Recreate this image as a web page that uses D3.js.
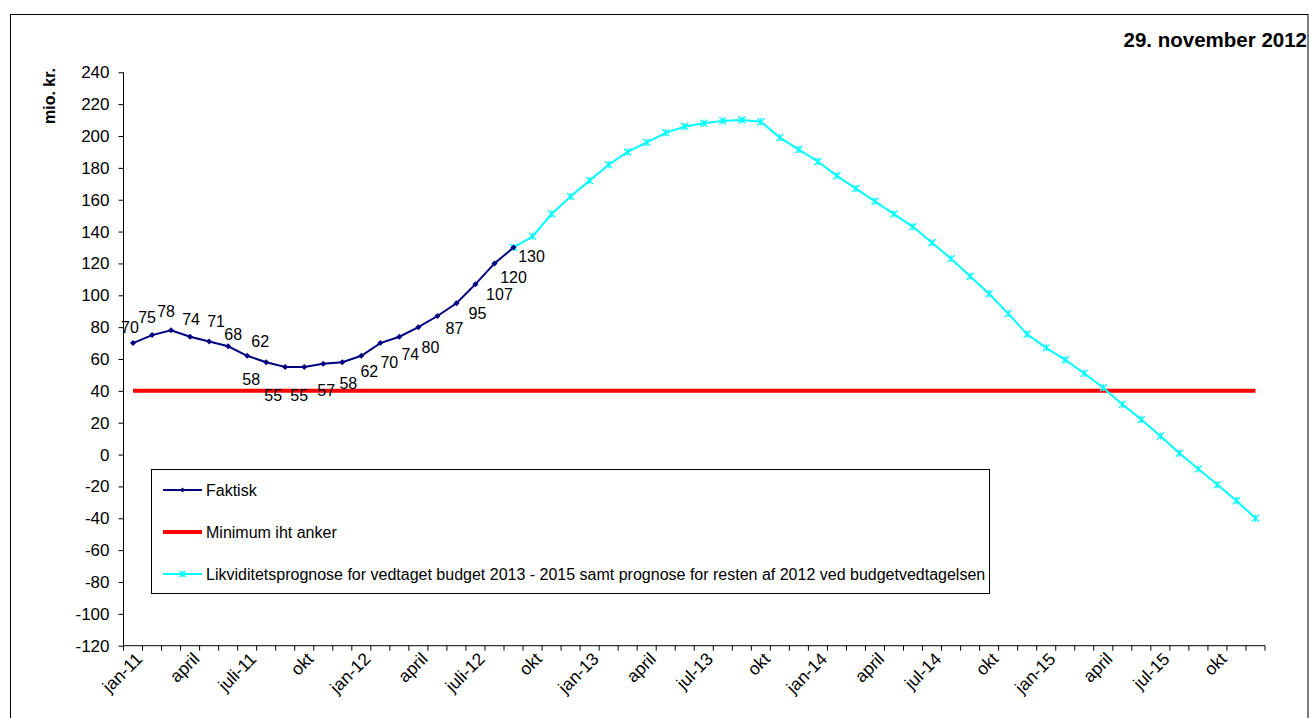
<!DOCTYPE html>
<html>
<head>
<meta charset="utf-8">
<script src="https://cdn.jsdelivr.net/npm/d3@7"></script>
<style>
  html, body { margin: 0; padding: 0; background: #fff; }
  svg { display: block; font-family: "Liberation Sans", Arial, sans-serif; }
</style>
</head>
<body>
<svg id="chart" width="1309" height="718"></svg>
<script>
// ---------------- DATA ----------------
const categories = [
  "jan-11","feb-11","mar-11","apr-11","maj-11","jun-11","jul-11","aug-11","sep-11","okt-11","nov-11","dec-11",
  "jan-12","feb-12","mar-12","apr-12","maj-12","jun-12","jul-12","aug-12","sep-12","okt-12","nov-12","dec-12",
  "jan-13","feb-13","mar-13","apr-13","maj-13","jun-13","jul-13","aug-13","sep-13","okt-13","nov-13","dec-13",
  "jan-14","feb-14","mar-14","apr-14","maj-14","jun-14","jul-14","aug-14","sep-14","okt-14","nov-14","dec-14",
  "jan-15","feb-15","mar-15","apr-15","maj-15","jun-15","jul-15","aug-15","sep-15","okt-15","nov-15","dec-15"
];
// Displayed tick labels (every third month, starting jan-11)
const tickLabels = ["jan-11","april","juli-11","okt","jan-12","april","juli-12","okt",
  "jan-13","april","jul-13","okt","jan-14","april","jul-14","okt","jan-15","april","jul-15","okt"];
const yTicks = [240,220,200,180,160,140,120,100,80,60,40,20,0,-20,-40,-60,-80,-100,-120];

// Faktisk: jan-11 .. sep-12
const faktiskStart = "jan-11";
const faktiskValues = [70,75,78,74,71,68,62,58,55,55,57,58,62,70,74,80,87,95,107,120,130];
// Minimum iht anker (constant level across the whole period)
const minimumValue = 40;
// Likviditetsprognose: sep-12 .. dec-15
const prognoseStart = "sep-12";
const prognoseValues = [130,137,151,162,172,182,190,196,202,206,208,209.5,210,209,
  199,191.5,184,175,167,159,151,143,133,123,112,101,88.5,75.5,67,59.5,51,42,31.5,22,11.7,0.8,-9,-19,-29,-40];

const seriesNames = ["Faktisk","Minimum iht anker",
  "Likviditetsprognose for vedtaget budget 2013 - 2015 samt prognose for resten af 2012 ved budgetvedtagelsen"];
const titleText = "29. november 2012";
const yAxisTitle = "mio. kr.";

// label placement offsets (layout only) for Faktisk data labels [dx, dy]
const faktiskLabelOffsets = [[-3,-16],[-5,-18],[-5,-19],[1,-17],[7,-20],[5,-12],[13,-14],
  [-15,17],[-12,28],[-5,28],[3,27],[6,21],[8,16],[9,19],[11,18],[12,20],[17,12],[21,10],[24,10],[19,14],[18,9]];

// ---------------- LAYOUT ----------------
const svg = d3.select("#chart");
const plot = {left: 123.5, right: 1265, top: 72.3, bottom: 645.7};

const x = d3.scaleBand().domain(categories).range([plot.left, plot.right]).padding(0);
const y = d3.scaleLinear().domain([-120, 240]).range([plot.bottom, plot.top]);
const cx = c => x(c) + x.bandwidth() / 2;
const fmt = v => String(Math.round(v));

// outer frame
svg.append("rect").attr("x", 10.5).attr("y", 14.5).attr("width", 1297.5).attr("height", 720)
  .attr("fill", "none").attr("stroke", "#000").attr("stroke-width", 1);

// title
svg.append("text").attr("x", 1307).attr("y", 47).attr("text-anchor", "end")
  .attr("font-size", 20.5).attr("font-weight", "bold").text(titleText);

// y axis title
svg.append("text").attr("transform", "translate(55,96) rotate(-90)")
  .attr("text-anchor", "middle").attr("font-size", 16).attr("font-weight", "bold").text(yAxisTitle);

// y axis
const yAxis = d3.axisLeft(y).tickValues(yTicks).tickSize(5).tickPadding(9).tickFormat(fmt);
const gy = svg.append("g").attr("transform", `translate(${plot.left},0)`).call(yAxis);
gy.select(".domain").attr("stroke", "#000").attr("d", `M-0,${plot.top}V${plot.bottom}`);
gy.selectAll(".tick line").attr("stroke", "#000");
gy.selectAll(".tick text").attr("font-size", 17).attr("fill", "#000").attr("font-family", "Liberation Sans, Arial, sans-serif");

// x axis (ticks between categories)
const gx = svg.append("g").attr("transform", `translate(0,${plot.bottom})`);
gx.append("line").attr("x1", plot.left).attr("x2", plot.right).attr("stroke", "#000");
const boundaries = categories.map(c => x(c)).concat([plot.right]);
gx.selectAll("line.tk").data(boundaries).join("line").attr("class", "tk")
  .attr("x1", d => d).attr("x2", d => d).attr("y1", 0).attr("y2", 5).attr("stroke", "#000");
const labelCats = categories.filter((c, i) => i % 3 === 0);
gx.selectAll("text.xl").data(labelCats).join("text").attr("class", "xl")
  .attr("transform", c => `translate(${cx(c) + 6},${10}) rotate(-45)`)
  .attr("text-anchor", "end").attr("font-size", 17.5).attr("dy", "0.35em")
  .text((c, i) => tickLabels[i]);

// ---------------- SERIES ----------------
const startF = categories.indexOf(faktiskStart);
const faktisk = faktiskValues.map((v, i) => ({c: categories[startF + i], v}));
const startP = categories.indexOf(prognoseStart);
const prognose = prognoseValues.map((v, i) => ({c: categories[startP + i], v}));

const line = d3.line().x(d => cx(d.c)).y(d => y(d.v));

// minimum line
svg.append("line")
  .attr("x1", cx(categories[0])).attr("x2", cx(categories[categories.length - 1]))
  .attr("y1", y(minimumValue)).attr("y2", y(minimumValue))
  .attr("stroke", "#ff0000").attr("stroke-width", 4);

// prognose
svg.append("path").datum(prognose).attr("d", line).attr("fill", "none")
  .attr("stroke", "#00ffff").attr("stroke-width", 2);
const starMarker = (g, s) => {
  g.append("path").attr("d", `M${-s},${-s}L${s},${s}M${-s},${s}L${s},${-s}M0,${-s}L0,${s}`)
    .attr("stroke", "#00ffff").attr("stroke-width", 1.3).attr("fill", "none");
};
svg.selectAll("g.pm").data(prognose).join("g").attr("class", "pm")
  .attr("transform", d => `translate(${cx(d.c)},${y(d.v)})`)
  .each(function() { starMarker(d3.select(this), 3.5); });

// faktisk
svg.append("path").datum(faktisk).attr("d", line).attr("fill", "none")
  .attr("stroke", "#000080").attr("stroke-width", 2);
svg.selectAll("path.fm").data(faktisk).join("path").attr("class", "fm")
  .attr("transform", d => `translate(${cx(d.c)},${y(d.v)})`)
  .attr("d", "M0,-3L3,0L0,3L-3,0Z").attr("fill", "#000080");

// faktisk data labels
svg.selectAll("text.dl").data(faktisk).join("text").attr("class", "dl")
  .attr("x", (d, i) => cx(d.c) + faktiskLabelOffsets[i][0])
  .attr("y", (d, i) => y(d.v) + faktiskLabelOffsets[i][1])
  .attr("dy", "0.35em").attr("text-anchor", "middle").attr("font-size", 16)
  .text(d => fmt(d.v));

// ---------------- LEGEND ----------------
const lg = svg.append("g");
lg.append("rect").attr("x", 151.5).attr("y", 469.5).attr("width", 838).attr("height", 124)
  .attr("fill", "#fff").attr("stroke", "#000").attr("stroke-width", 1);
const rowsY = [490, 532, 574];
// row 1
lg.append("line").attr("x1", 163).attr("x2", 202).attr("y1", rowsY[0]).attr("y2", rowsY[0])
  .attr("stroke", "#000080").attr("stroke-width", 2);
lg.append("path").attr("transform", `translate(182.5,${rowsY[0]})`).attr("d", "M0,-2.5L2.5,0L0,2.5L-2.5,0Z").attr("fill", "#000080");
// row 2
lg.append("line").attr("x1", 163).attr("x2", 202).attr("y1", rowsY[1]).attr("y2", rowsY[1])
  .attr("stroke", "#ff0000").attr("stroke-width", 4);
// row 3
lg.append("line").attr("x1", 163).attr("x2", 202).attr("y1", rowsY[2]).attr("y2", rowsY[2])
  .attr("stroke", "#00ffff").attr("stroke-width", 2);
starMarker(lg.append("g").attr("transform", `translate(182.5,${rowsY[2]})`), 3);
lg.selectAll("text.lt").data(seriesNames).join("text").attr("class", "lt")
  .attr("x", 206).attr("y", (d, i) => rowsY[i]).attr("dy", "0.35em")
  .attr("font-size", 16).text(d => d);
</script>
</body>
</html>
